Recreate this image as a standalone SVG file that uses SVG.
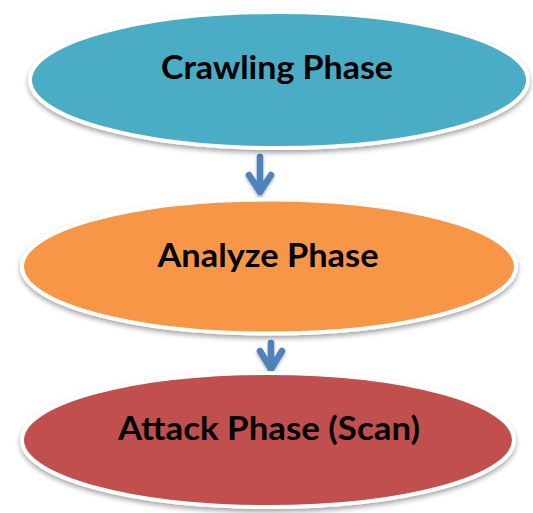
<svg xmlns="http://www.w3.org/2000/svg" width="533" height="513" viewBox="0 0 533 513">
  <style>
    .phase { stroke: #ffffff; stroke-width: 4; filter: url(#shadow); }
    .label { font-family: "Lato", "Open Sans", "Liberation Sans", sans-serif; font-weight: bold; font-size: 33px; fill: #000000; text-anchor: middle; }
    .flow { fill: none; stroke: #4F81BD; stroke-width: 6.5; stroke-linecap: round; stroke-linejoin: round; }
  </style>
  <defs>
    <filter id="shadow" x="-10%" y="-20%" width="120%" height="150%">
      <feDropShadow dx="0" dy="3" stdDeviation="2.5" flood-color="#000000" flood-opacity="0.35"/>
    </filter>
    <filter id="arrowShadow" x="-50%" y="-20%" width="200%" height="150%">
      <feDropShadow dx="0" dy="2" stdDeviation="1.5" flood-color="#000000" flood-opacity="0.3"/>
    </filter>
  </defs>
  <rect width="533" height="513" fill="#ffffff"/>

  <!-- connectors -->
  <g id="connectors" filter="url(#arrowShadow)">
    <path class="flow" d="M260,157 V192 M249,175 L260,192 L271,175"/>
    <path class="flow" d="M271,343 V369 M260,351 L271,369 L282,351"/>
  </g>

  <g id="crawling">
    <ellipse class="phase" cx="279" cy="80" rx="249" ry="68" fill="#4BACC6"/>
    <text class="label" x="277" y="79" textLength="232" lengthAdjust="spacingAndGlyphs">Crawling Phase</text>
  </g>

  <g id="analyze">
    <ellipse class="phase" cx="269" cy="266.5" rx="247" ry="67" fill="#F79646"/>
    <text class="label" x="268" y="267" textLength="221" lengthAdjust="spacingAndGlyphs">Analyze Phase</text>
  </g>

  <g id="attack">
    <ellipse class="phase" cx="268" cy="440" rx="246" ry="67" fill="#C0504D"/>
    <text class="label" x="269" y="440" textLength="302" lengthAdjust="spacingAndGlyphs">Attack Phase (Scan)</text>
  </g>
</svg>
